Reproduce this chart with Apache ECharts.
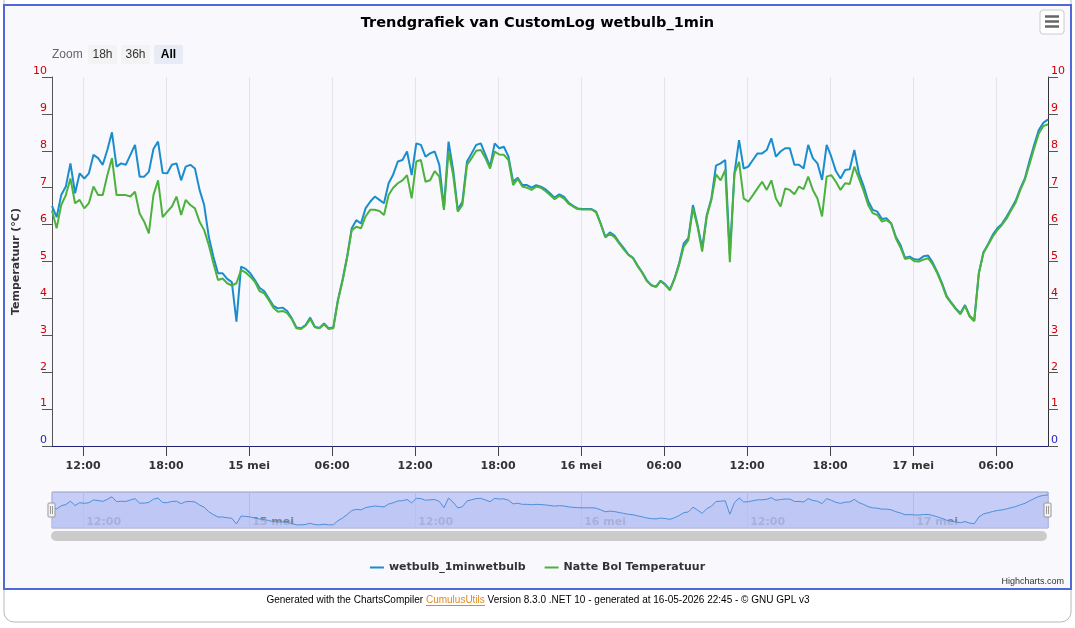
<!DOCTYPE html>
<html>
<head>
<meta charset="utf-8">
<title>Trendgrafiek van CustomLog wetbulb_1min</title>
<script src="https://cdn.jsdelivr.net/npm/echarts@6/dist/echarts.min.js"></script>
<style>
    html, body { margin: 0; padding: 0; background: #ffffff; }
    #chart { width: 1075px; height: 628px; }
</style>
</head>
<body>
<div id="chart"></div>
<script>
// samples every 20 minutes, starting 14 mei 09:45
var startTime = '2026-05-14T09:45:00';
var stepMinutes = 20;
var spanHours = 72;

var wetbulbValues = [
    6.51, 6.2, 6.8, 7.03, 7.66, 6.85, 7.39, 7.25, 7.39, 7.89, 7.8, 7.62, 8.02, 8.5, 7.57, 7.66, 7.62, 7.89, 8.16, 7.3,
    7.3, 7.43, 8.05, 8.25, 7.4, 7.39, 7.62, 7.66, 7.2, 7.57, 7.62, 7.52, 6.94, 6.53, 5.67, 5.13, 4.68, 4.68, 4.53, 4.44,
    3.37, 4.86, 4.8, 4.68, 4.5, 4.29, 4.2, 4.0, 3.8, 3.73, 3.75, 3.66, 3.46, 3.21, 3.19,
    3.28, 3.48, 3.23, 3.2, 3.32, 3.19, 3.21, 3.96, 4.5, 5.13, 5.9, 6.12, 6.03, 6.44, 6.62, 6.76, 6.67, 6.58, 7.12, 7.36,
    7.71, 7.75, 7.98, 7.34, 8.2, 8.16, 7.84, 7.93, 7.98, 7.62, 6.44, 8.25, 7.48, 6.4, 6.62, 7.71, 7.93, 8.16, 8.2, 7.89,
    7.57, 8.2, 8.07, 8.11, 7.84, 7.16, 7.27, 7.07, 7.07, 7.0, 7.07, 7.03, 6.96,
    6.85, 6.73, 6.82, 6.76, 6.6, 6.51, 6.44, 6.42, 6.42, 6.42, 6.35, 6.03, 5.67, 5.79, 5.7, 5.52, 5.36, 5.19, 5.1, 4.89,
    4.71, 4.49, 4.36, 4.32, 4.48, 4.38, 4.24, 4.54, 4.95, 5.49, 5.63, 6.53, 5.99, 5.36, 6.26, 6.71, 7.6, 7.66, 7.75, 5.2,
    7.39, 8.29, 7.52, 7.57, 7.75, 7.93, 7.93, 8.02, 8.34, 7.84, 7.98, 8.07, 8.07, 7.62,
    7.62, 7.52, 8.16, 7.8, 7.66, 7.21, 8.16, 7.84, 7.45, 7.25, 7.48, 7.5, 8.02, 7.39, 7.05, 6.64, 6.4, 6.35, 6.15, 6.17,
    6.03, 5.67, 5.45, 5.1, 5.13, 5.06, 5.05, 5.14, 5.16, 4.97, 4.71, 4.42, 4.07, 3.89, 3.73, 3.6, 3.82, 3.53, 3.4, 4.68,
    5.25, 5.47, 5.72, 5.9, 6.02, 6.21, 6.43, 6.65, 6.98, 7.26, 7.73, 8.16, 8.56, 8.76, 8.85
];

var natteBolValues = [
    6.38, 5.9, 6.53, 6.8, 7.25, 6.58, 6.67, 6.44, 6.58, 7.03, 6.8, 6.8, 7.34, 7.8, 6.8, 6.8, 6.8, 6.76, 6.89, 6.3,
    6.08, 5.76, 6.8, 7.2, 6.2, 6.35, 6.49, 6.76, 6.26, 6.67, 6.53, 6.44, 6.08, 5.85, 5.45, 4.95, 4.5, 4.54, 4.41, 4.35,
    4.41, 4.77, 4.7, 4.59, 4.45, 4.2, 4.14, 3.96, 3.75, 3.64, 3.66, 3.6, 3.44, 3.19, 3.17,
    3.26, 3.44, 3.22, 3.19, 3.3, 3.17, 3.19, 3.93, 4.47, 5.1, 5.85, 5.94, 5.9, 6.22, 6.4, 6.4, 6.37, 6.26, 6.8, 7.0,
    7.12, 7.2, 7.34, 6.71, 7.71, 7.75, 7.16, 7.2, 7.45, 7.3, 6.4, 7.98, 7.34, 6.35, 6.53, 7.62, 7.8, 8.0, 8.02, 7.8,
    7.52, 7.98, 7.9, 7.89, 7.75, 7.07, 7.24, 7.03, 7.0, 6.94, 7.03, 7.0, 6.91,
    6.8, 6.69, 6.78, 6.71, 6.57, 6.49, 6.42, 6.41, 6.41, 6.41, 6.33, 6.01, 5.65, 5.75, 5.66, 5.49, 5.33, 5.18, 5.09, 4.87,
    4.69, 4.47, 4.35, 4.31, 4.47, 4.36, 4.22, 4.52, 4.91, 5.4, 5.58, 6.44, 5.94, 5.27, 6.22, 6.67, 7.36, 7.2, 7.48, 4.98,
    7.39, 7.7, 6.71, 6.62, 6.8, 6.98, 7.16, 6.94, 7.2, 6.71, 6.49, 6.98, 6.94, 6.82,
    7.03, 6.96, 7.3, 6.94, 6.71, 6.22, 7.3, 7.34, 7.16, 6.94, 7.12, 7.1, 7.57, 7.25, 6.92, 6.53, 6.31, 6.26, 6.08, 6.12,
    6.03, 5.63, 5.38, 5.07, 5.1, 5.01, 5.0, 5.05, 5.09, 4.92, 4.68, 4.38, 4.04, 3.87, 3.71, 3.57, 3.8, 3.51, 3.38, 4.68,
    5.23, 5.45, 5.67, 5.85, 5.99, 6.16, 6.39, 6.6, 6.94, 7.22, 7.64, 8.07, 8.47, 8.67, 8.72
];

var seriesNames = ['wetbulb_1minwetbulb', 'Natte Bol Temperatuur'];
var seriesColors = ['#1b8dcc', '#4cb23c'];
var zoomButtons = ['18h', '36h', 'All'];
var monthName = 'mei';

var t0 = new Date(startTime).getTime();
var t1 = t0 + spanHours * 3600 * 1000;

function toPairs(values) {
    return values.map(function(v, i) {
        return [t0 + i * stepMinutes * 60000, v];
    });
}

function pad(n) {
    return n < 10 ? '0' + n : '' + n;
}

function timeLabel(value) {
    var d = new Date(value);
    if (d.getHours() === 0 && d.getMinutes() === 0) {
        return d.getDate() + ' ' + monthName;
    }
    return pad(d.getHours()) + ':' + pad(d.getMinutes());
}

function navLabel(value) {
    var d = new Date(value);
    if (d.getHours() % 12 !== 0 || d.getMinutes() !== 0) {
        return '';
    }
    return timeLabel(value);
}

function tempLabelColor(value) {
    return Number(value) === 0 ? '#2424c4' : '#d20000';
}

var chart = echarts.init(document.getElementById('chart'));

var buttonGraphics = [
    { type: 'text', x: 52, y: 54.5, style: { text: 'Zoom', fill: '#666666', verticalAlign: 'middle',
                                            font: '12px "Liberation Sans"' } }
];
var bx = 88;
zoomButtons.forEach(function(label) {
    var selected = label === 'All';
    buttonGraphics.push({
        type: 'rect', shape: { x: bx, y: 45, width: 29, height: 19, r: 2 },
        style: { fill: selected ? '#e6ebf5' : '#f3f3f3' }, z: 10
    });
    buttonGraphics.push({
        type: 'text', x: bx + 14.5, y: 55, z: 11,
        style: {
            text: label, fill: selected ? '#000000' : '#333333', align: 'center', verticalAlign: 'middle',
            font: (selected ? 'bold ' : '') + '12px "Liberation Sans"'
        }
    });
    bx += 33;
});

var option = {
    backgroundColor: '#ffffff',
    animation: false,
    title: {
        text: 'Trendgrafiek van CustomLog wetbulb_1min',
        left: 'center',
        top: 11,
        textStyle: { fontFamily: 'DejaVu Sans', fontSize: 14.5, fontWeight: 'bold', color: '#000000' }
    },
    legend: {
        data: seriesNames,
        left: 'center',
        top: 557,
        itemWidth: 14,
        itemHeight: 2,
        itemGap: 19,
        icon: 'rect',
        textStyle: { fontFamily: 'DejaVu Sans', fontSize: 11, fontWeight: 'bold', color: '#333333' }
    },
    grid: [
        { left: 52, right: 27, top: 77, height: 369, containLabel: false },
        { left: 52, right: 27, top: 492, height: 36, show: true, backgroundColor: '#c6cdf6',
          borderColor: '#9aa0c0', borderWidth: 1 }
    ],
    xAxis: [
        {
            type: 'time', gridIndex: 0, min: t0, max: t1,
            minInterval: 6.5 * 3600 * 1000, maxInterval: 6.5 * 3600 * 1000,
            axisLine: { show: true, lineStyle: { color: '#20207a', width: 1 } },
            axisTick: { show: true, length: 10, lineStyle: { color: '#444444' } },
            axisLabel: {
                formatter: timeLabel, showMinLabel: false, showMaxLabel: false, margin: 15,
                fontFamily: 'DejaVu Sans', fontSize: 11, fontWeight: 'bold', color: '#333333'
            },
            splitLine: { show: true, lineStyle: { color: '#e4e4ea', width: 1 } }
        },
        {
            type: 'time', gridIndex: 1, min: t0, max: t1,
            minInterval: 13 * 3600 * 1000, maxInterval: 13 * 3600 * 1000,
            axisLine: { show: false },
            axisTick: { show: false },
            axisLabel: {
                inside: true, formatter: navLabel, showMinLabel: false, showMaxLabel: false,
                align: 'left', margin: 0, padding: [0, 0, 0, 3],
                fontFamily: 'DejaVu Sans', fontSize: 11, fontWeight: 'bold', color: '#7b8096'
            },
            splitLine: { show: true, lineStyle: { color: '#b3bbe4', width: 1 } }
        }
    ],
    yAxis: [
        {
            type: 'value', gridIndex: 0, min: 0, max: 10, interval: 1, position: 'left',
            name: 'Temperatuur (°C)', nameLocation: 'middle', nameGap: 24, nameRotate: 90,
            nameTextStyle: { fontFamily: 'DejaVu Sans', fontSize: 11, fontWeight: 'bold', color: '#333333' },
            axisLine: { show: true, lineStyle: { color: '#555555' } },
            axisTick: { show: true, length: 10, lineStyle: { color: '#555555' } },
            axisLabel: { color: tempLabelColor, fontFamily: 'DejaVu Sans', fontSize: 11, margin: 5,
                         verticalAlign: 'bottom' },
            splitLine: { show: false }
        },
        {
            type: 'value', gridIndex: 0, min: 0, max: 10, interval: 1, position: 'right',
            axisLine: { show: true, lineStyle: { color: '#333333' } },
            axisTick: { show: true, length: 10, lineStyle: { color: '#555555' } },
            axisLabel: { color: tempLabelColor, fontFamily: 'DejaVu Sans', fontSize: 11, margin: 3,
                         verticalAlign: 'bottom' },
            splitLine: { show: false }
        },
        {
            type: 'value', gridIndex: 1, min: 2.6, max: 9.4, show: false
        }
    ],
    series: [
        {
            name: seriesNames[0], type: 'line', xAxisIndex: 0, yAxisIndex: 0,
            data: toPairs(wetbulbValues), showSymbol: false, color: seriesColors[0],
            lineStyle: { width: 2 }, z: 3
        },
        {
            name: seriesNames[1], type: 'line', xAxisIndex: 0, yAxisIndex: 0,
            data: toPairs(natteBolValues), showSymbol: false, color: seriesColors[1],
            lineStyle: { width: 2 }, z: 4
        },
        {
            name: 'navigator', type: 'line', xAxisIndex: 1, yAxisIndex: 2,
            data: toPairs(wetbulbValues), showSymbol: false, silent: true,
            lineStyle: { width: 1, color: '#4d8fdb' },
            areaStyle: { color: '#bcc5f4', origin: 'start' }, z: 3
        }
    ],
    graphic: [
        // outer container and chart frame
        { type: 'rect', z: -10, silent: true, shape: { x: 4, y: -12, width: 1067, height: 634, r: 10 },
          style: { fill: '#ffffff', stroke: '#b8b8b8', lineWidth: 1 } },
        { type: 'rect', z: -9, silent: true, shape: { x: 4, y: 5, width: 1067, height: 584 },
          style: { fill: '#f8f8fd', stroke: '#4f6ad6', lineWidth: 2 } },
        // export menu button
        { type: 'rect', z: 10, shape: { x: 1040, y: 10, width: 24, height: 24, r: 3 },
          style: { fill: '#ffffff', stroke: '#cccccc', lineWidth: 1 } },
        { type: 'line', z: 11, shape: { x1: 1045, y1: 16.5, x2: 1059, y2: 16.5 }, style: { stroke: '#666666', lineWidth: 2.5 } },
        { type: 'line', z: 11, shape: { x1: 1045, y1: 21.5, x2: 1059, y2: 21.5 }, style: { stroke: '#666666', lineWidth: 2.5 } },
        { type: 'line', z: 11, shape: { x1: 1045, y1: 26.5, x2: 1059, y2: 26.5 }, style: { stroke: '#666666', lineWidth: 2.5 } },
        // navigator handles and scrollbar
        { type: 'rect', z: 10, shape: { x: 48, y: 503, width: 7, height: 14, r: 1 },
          style: { fill: '#f2f2f2', stroke: '#999999', lineWidth: 1 } },
        { type: 'line', z: 11, shape: { x1: 50.5, y1: 506, x2: 50.5, y2: 514 }, style: { stroke: '#999999', lineWidth: 1 } },
        { type: 'line', z: 11, shape: { x1: 52.5, y1: 506, x2: 52.5, y2: 514 }, style: { stroke: '#999999', lineWidth: 1 } },
        { type: 'rect', z: 10, shape: { x: 1044, y: 503, width: 7, height: 14, r: 1 },
          style: { fill: '#f2f2f2', stroke: '#999999', lineWidth: 1 } },
        { type: 'line', z: 11, shape: { x1: 1046.5, y1: 506, x2: 1046.5, y2: 514 }, style: { stroke: '#999999', lineWidth: 1 } },
        { type: 'line', z: 11, shape: { x1: 1048.5, y1: 506, x2: 1048.5, y2: 514 }, style: { stroke: '#999999', lineWidth: 1 } },
        { type: 'rect', z: 10, shape: { x: 51, y: 531, width: 996, height: 10, r: 5 },
          style: { fill: '#cbcbcb' } },
        // credits and footer
        { type: 'text', z: 10, x: 1064, y: 582,
          style: { text: 'Highcharts.com', fill: '#333333', align: 'right', verticalAlign: 'middle',
                   font: '9px "Liberation Sans"' } },
        { type: 'text', z: 10, x: 538, y: 600,
          style: {
              text: '{a|Generated with the ChartsCompiler }{b|CumulusUtils}{a| Version 8.3.0 .NET 10 - generated at 16-05-2026 22:45 - © GNU GPL v3}',
              align: 'center', verticalAlign: 'middle',
              rich: {
                  a: { fill: '#000000', font: '10px "Liberation Sans"' },
                  b: { fill: '#e08a1e', font: '10px "Liberation Sans"' }
              }
          } },
        { type: 'line', z: 10, shape: { x1: 426, y1: 605.5, x2: 485, y2: 605.5 }, style: { stroke: '#e08a1e', lineWidth: 1 } }
    ].concat(buttonGraphics)
};

chart.setOption(option);
</script>
</body>
</html>
